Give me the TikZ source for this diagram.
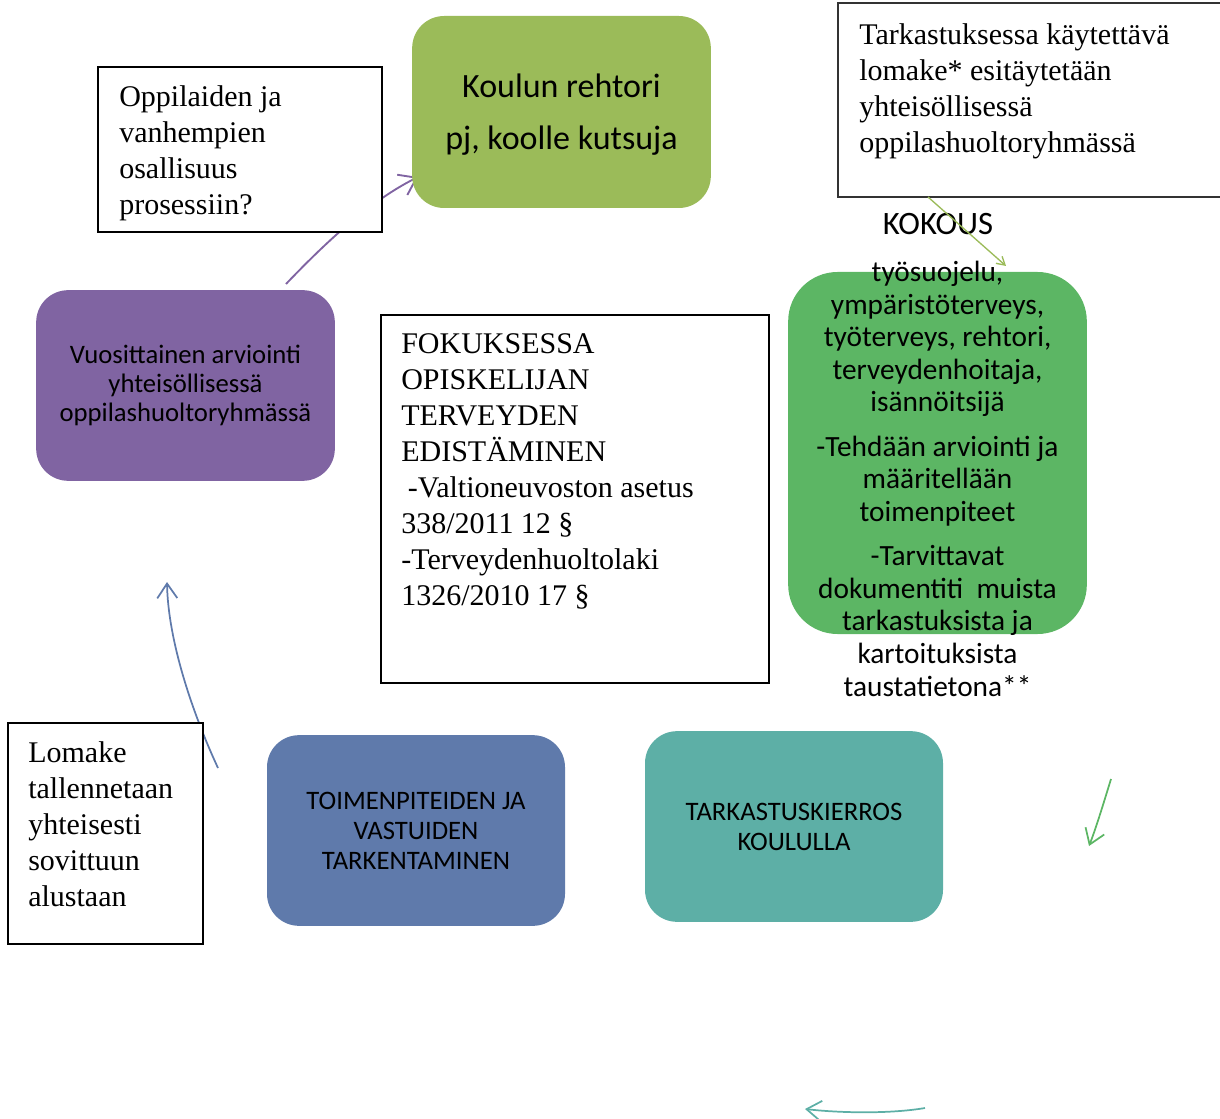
\documentclass[tikz,border=0pt]{standalone}
\usepackage{fontspec}
\setmainfont{Liberation Serif}
\newfontfamily\calib{Carlito}
\usepackage{tikz}
\usetikzlibrary{arrows.meta}
\definecolor{rehtorigreen}{HTML}{9BBB59}
\definecolor{kokousgreen}{HTML}{5CB664}
\definecolor{vuosipurple}{HTML}{8064A2}
\definecolor{toimenblue}{HTML}{5F7AAB}
\definecolor{kierrosteal}{HTML}{5DAFA6}
\tikzstyle{roundbox} = [rounded corners=24pt, inner sep=0pt, align=center, text=black]
\tikzstyle{paperbox} = [draw=black, fill=white, line width=1pt, inner sep=0pt]
\tikzstyle{seriftext} = [anchor=north west, inner sep=0pt, align=left, font=\fontsize{22.5}{27}\selectfont]

\begin{document}
\begin{tikzpicture}[x=0.75pt,y=-0.75pt,>={Straight Barb[length=11pt,width=15pt]}]
\useasboundingbox (0,0) rectangle (1220,1119);
% arrows first, the boxes lie over them
\coordinate (p1) at (286,284);
\coordinate (p2) at (418,177);
\coordinate (q1) at (218,768);
\coordinate (q2) at (167,582);
\coordinate (r1) at (1111,779);
\coordinate (r2) at (1089,846);
\coordinate (s1) at (925,1108);
\coordinate (s2) at (805,1109);
\draw [->, vuosipurple, line width=1.4pt, >={Straight Barb[length=12pt,width=17pt]}] (p1) .. controls (330,238) and (372,200) .. (p2);
\draw [->, toimenblue, line width=1.3pt] (q1) .. controls (192,712) and (168,640) .. (q2);
\draw [->, kokousgreen, line width=1.3pt] (r1) .. controls (1103,805) and (1096,828) .. (r2);
\draw [->, kierrosteal, line width=1.3pt] (s1) .. controls (890,1114) and (840,1113) .. (s2);

% coloured boxes
\node [roundbox, fill=rehtorigreen, minimum width=224pt, minimum height=144pt] (rehtori) at (561.5,112) {};
\node [inner sep=0pt, align=center, font=\calib\fontsize{25.5}{39}\selectfont] (rehtoritxt) at (561.5,114.5) {Koulun rehtori\\pj, koolle kutsuja};
\node [roundbox, fill=vuosipurple, minimum width=224pt, minimum height=143pt,
  font=\calib\fontsize{20}{22}\selectfont] (vuosi) at (185.5,385.5) {Vuosittainen arviointi\\yhteisöllisessä\\oppilashuoltoryhmässä};
\node [roundbox, fill=toimenblue, minimum width=223.5pt, minimum height=143pt,
  font=\calib\fontsize{20}{22.5}\selectfont] (toimen) at (416,830.5) {TOIMENPITEIDEN JA\\VASTUIDEN\\TARKENTAMINEN};
\node [roundbox, fill=kierrosteal, minimum width=223.5pt, minimum height=143pt,
  font=\calib\fontsize{20}{22.5}\selectfont] (kierros) at (794,826.5) {TARKASTUSKIERROS\\KOULULLA};
\node [roundbox, rounded corners=37pt, fill=kokousgreen, minimum width=224pt, minimum height=271.5pt] (kokous) at (937.5,453) {};
\node [inner sep=0pt, anchor=north, align=center, font=\calib\fontsize{22}{24.4}\selectfont] (kokoustxt) at (937.5,261)
  {työsuojelu,\\ympäristöterveys,\\työterveys, rehtori,\\terveydenhoitaja,\\isännöitsijä\\[9pt]
   -Tehdään arviointi ja\\määritellään\\toimenpiteet\\[9pt]
   -Tarvittavat\\dokumentiti\ \ muista\\tarkastuksista ja\\kartoituksista\\taustatietona**};

% text boxes
\node [paperbox, minimum width=213pt, minimum height=123.75pt] (osallisuus) at (240,149.5) {};
\node [seriftext] (osallisuustxt) at (119,85) {Oppilaiden ja\\vanhempien\\osallisuus\\prosessiin?};
\node [paperbox, line width=1.3pt, draw=black!80, minimum width=298pt, minimum height=145.5pt] (esitaytto) at (1037,100) {};
\node [seriftext] (esitayttotxt) at (859,23) {Tarkastuksessa käytettävä\\lomake* esitäytetään\\yhteisöllisessä\\oppilashuoltoryhmässä};
\node [paperbox, minimum width=291pt, minimum height=276pt] (fokus) at (575,499) {};
\node [seriftext] (fokustxt) at (401,333) {FOKUKSESSA\\OPISKELIJAN\\TERVEYDEN\\EDISTÄMINEN\\\hspace{5pt}-Valtioneuvoston asetus\\338/2011 12 §\\-Terveydenhuoltolaki\\1326/2010 17 §};
\node [paperbox, minimum width=146.25pt, minimum height=165.75pt] (lomake) at (105.5,833.5) {};
\node [seriftext] (lomaketxt) at (28,741) {Lomake\\tallennetaan\\yhteisesti\\sovittuun\\alustaan};

% meeting title and its arrow
\node [inner sep=0pt, font=\calib\fontsize{24.5}{28}\selectfont] (kokousotsikko) at (938,224) {KOKOUS};
\coordinate (t1) at (928,197);
\coordinate (t2) at (1006,266);
\draw [->, rehtorigreen, line width=1pt, >={Straight Barb[length=6pt,width=7pt]}] (t1) -- (t2);
\end{tikzpicture}
\end{document}
